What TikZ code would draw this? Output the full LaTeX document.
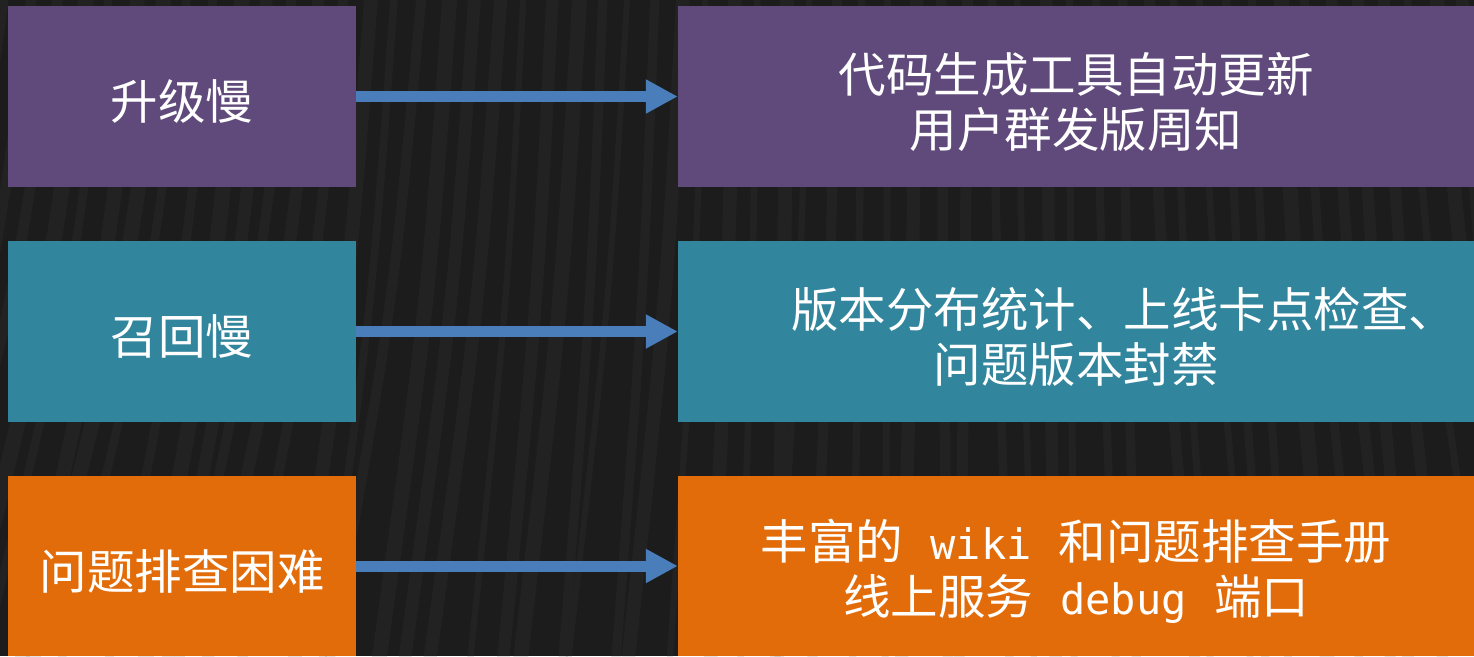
\documentclass[tikz,border=0pt]{standalone}
\usepackage{fontspec}
\setmainfont{Noto Sans CJK SC}
\newfontfamily\latmono{DejaVu Sans Mono}
\usetikzlibrary{arrows.meta}
\definecolor{bgdark}{HTML}{1C1C1C}
\definecolor{streak}{HTML}{222222}
\definecolor{cpurple}{HTML}{604A7B}
\definecolor{cteal}{HTML}{31859C}
\definecolor{corange}{HTML}{E36C0A}
\definecolor{carrow}{HTML}{4A7EBB}
\newcommand{\lw}[1]{{\latmono\fontsize{42}{55}\selectfont\hspace{2pt}#1\hspace{2pt}}}
\tikzset{
  txt/.style={text=white, font=\fontsize{47.5}{55}\selectfont, align=center, inner sep=0pt},
  leftbox/.style={minimum width=348pt, minimum height=181pt, inner sep=0pt},
  rightbox/.style={minimum width=796pt, minimum height=181pt, inner sep=0pt},
  lbl/.style={txt, yshift=-5pt},
  conn/.style={carrow, line width=11pt, -{Triangle[length=32pt,width=32pt]}}
}
\begin{document}
\begin{tikzpicture}[x=1pt,y=-1pt]
\useasboundingbox (0,0) rectangle (1474,656);
\fill[bgdark] (0,0) rectangle (1474,656);
\begin{scope}
\clip (0,0) rectangle (1474,656);
\pgfmathsetseed{7}
\foreach \i in {-12,...,60}{
  \pgfmathsetmacro{\w}{6+10*rnd}
  \pgfmathsetmacro{\dx}{-160+\i*4+30*rnd}
  \fill[streak] (\i*26,0) -- (\i*26+\w,0) .. controls (\i*26+\w+\dx*0.3,300) .. (\i*26+\w+\dx,656) -- (\i*26+\dx,656) .. controls (\i*26+\dx*0.3,300) .. (\i*26,0) -- cycle;
}
\end{scope}
\node[leftbox, fill=cpurple, label={[lbl]center:升级慢}] (l1) at (182,96.5) {};
\node[rightbox, fill=cpurple, label={[lbl]center:代码生成工具自动更新\\用户群发版周知}] (r1) at (1076,96.5) {};
\node[leftbox, fill=cteal, label={[lbl]center:召回慢}] (l2) at (182,331.5) {};
\node[rightbox, fill=cteal, label={[lbl]center:\hspace*{2em}版本分布统计、上线卡点检查、\\问题版本封禁}] (r2) at (1076,331.5) {};
\node[leftbox, fill=corange, minimum height=180pt, label={[lbl]center:问题排查困难}] (l3) at (182,566) {};
\node[rightbox, fill=corange, minimum height=180pt, label={[lbl]center:丰富的\lw{ wiki }和问题排查手册\\线上服务\lw{ debug }端口}] (r3) at (1076,566) {};
\draw[conn] (l1.east) -- (r1.west);
\draw[conn] (l2.east) -- (r2.west);
\draw[conn] (l3.east) -- (r3.west);
\end{tikzpicture}
\end{document}
